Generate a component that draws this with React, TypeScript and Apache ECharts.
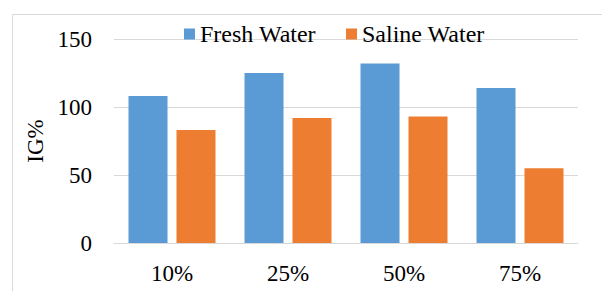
import React, { useEffect, useRef } from "react";
import * as echarts from "echarts";

const categories = ["10%", "25%", "50%", "75%"];
const freshWater = [108, 125, 132, 114];
const salineWater = [83, 92, 93, 55];
const seriesNames = ["Fresh Water", "Saline Water"];

const FONT = "Liberation Serif";
const FS = 23;

export default function App() {
  const ref = useRef<HTMLDivElement>(null);
  useEffect(() => {
    document.body.style.margin = "0";
    const chart = echarts.init(ref.current!, null, { renderer: "svg" });
    chart.setOption({
      animation: false,
      backgroundColor: "#ffffff",
      textStyle: { fontFamily: FONT, fontSize: FS, color: "#000" },
      graphic: [
        {
          type: "rect",
          left: 10,
          top: 12,
          shape: { width: 640, height: 320 },
          style: { fill: "none", stroke: "#D9D9D9", lineWidth: 1 },
          silent: true,
          z: -1,
        },
      ],
      legend: {
        data: seriesNames,
        left: 184,
        top: 22,
        padding: 0,
        itemWidth: 11,
        itemHeight: 11,
        itemGap: 30,
        icon: "rect",
        textStyle: { fontFamily: FONT, fontSize: 24, color: "#000" },
      },
      grid: { left: 114, right: 24, top: 39, bottom: 48 },
      xAxis: {
        type: "category",
        data: categories,
        axisLine: { show: true, lineStyle: { color: "#D9D9D9", width: 1 } },
        axisTick: { show: false },
        axisLabel: { fontFamily: FONT, fontSize: FS, color: "#000", margin: 19 },
      },
      yAxis: {
        type: "value",
        min: 0,
        max: 150,
        interval: 50,
        name: "IG%",
        nameLocation: "middle",
        nameGap: 62,
        nameRotate: 90,
        nameTextStyle: { fontFamily: FONT, fontSize: FS, color: "#000" },
        axisLine: { show: false },
        axisTick: { show: false },
        axisLabel: { fontFamily: FONT, fontSize: FS, color: "#000", margin: 22 },
        splitLine: { lineStyle: { color: "#D9D9D9", width: 1 } },
      },
      series: [
        {
          name: seriesNames[0],
          type: "bar",
          data: freshWater,
          itemStyle: { color: "#5B9BD5" },
          barGap: "23%",
          barCategoryGap: "25%",
        },
        {
          name: seriesNames[1],
          type: "bar",
          data: salineWater,
          itemStyle: { color: "#ED7D31" },
          barGap: "23%",
          barCategoryGap: "25%",
        },
      ],
    });
    return () => chart.dispose();
  }, []);
  return <div ref={ref} style={{ width: 602, height: 291 }} />;
}
